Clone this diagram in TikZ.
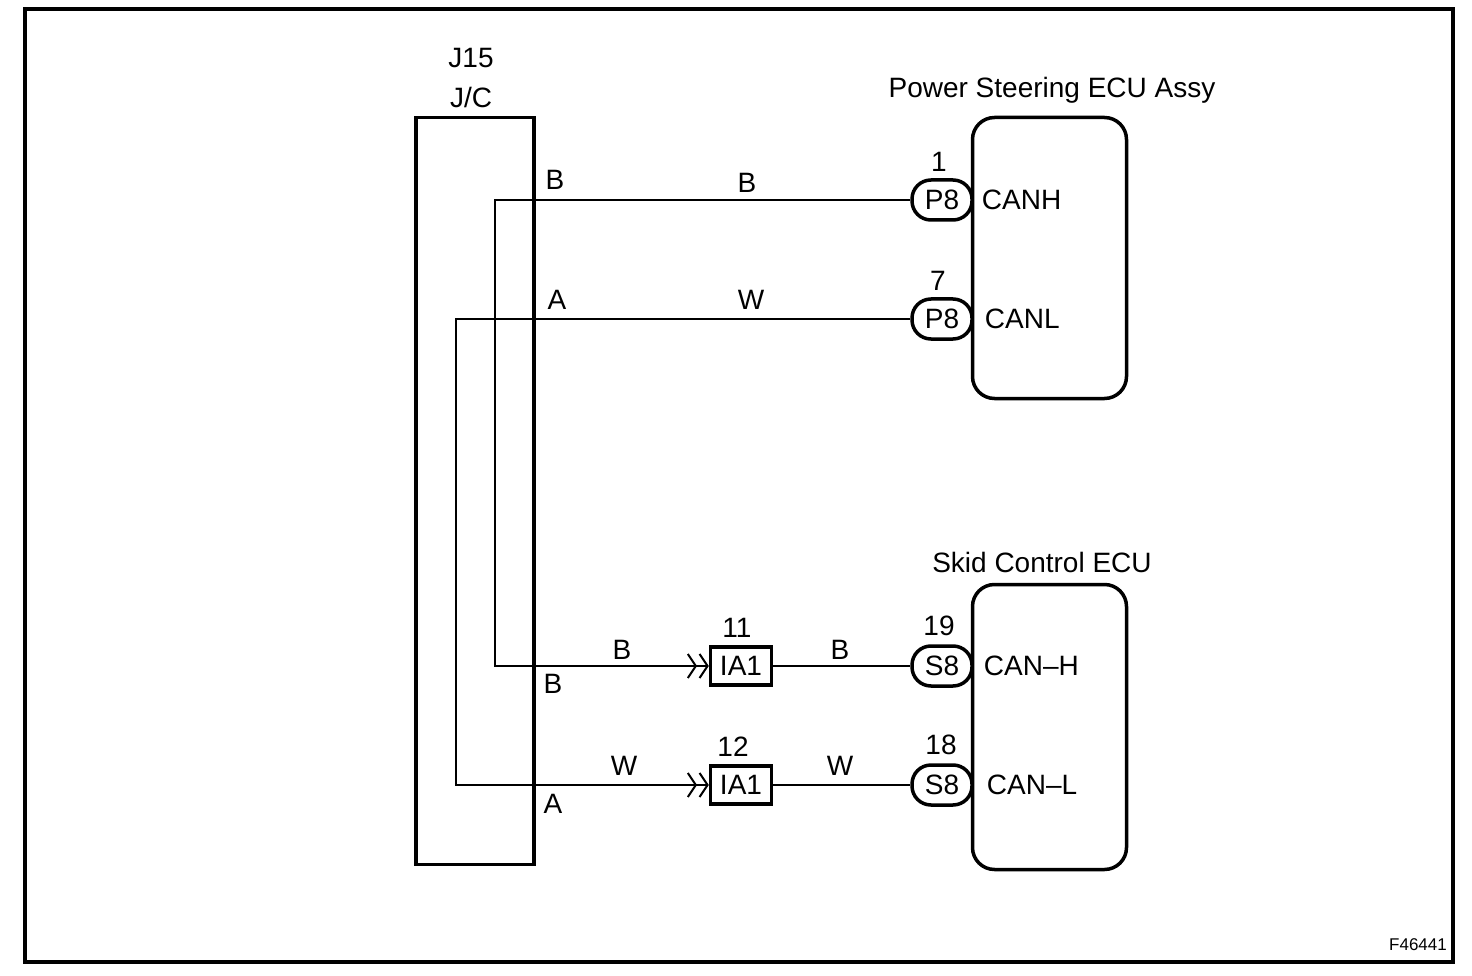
\documentclass[tikz,border=0pt]{standalone}
\usepackage{fontspec}
\setmainfont{Liberation Sans}
\usepackage{tikz}
\usetikzlibrary{arrows.meta, positioning}
\tikzset{
	font = \fontsize{28}{32}\selectfont,
	frame/.style={
		draw,
		line width=4.5pt
	},
	box/.style={
		draw,
		line width=3.5pt,
		inner sep=0pt
	},
	ecu/.style={
		box,
		rounded corners=22pt,
		minimum width=154pt
	},
	pin/.style={
		box,
		rounded corners=19pt,
		minimum width=60pt,
		minimum height=40pt
	},
	conn/.style={
		box,
		minimum width=61pt,
		minimum height=38pt
	},
	lbl/.style={
		inner sep=0pt
	},
	wire/.style={
		line width=1.5pt
	},
	jarrow/.style={
		-{Straight Barb[length=8pt,width=24pt,line width=2pt,sep=1.5pt]Straight Barb[length=8pt,width=24pt,line width=2pt]}
	}
}

\begin{document}
\begin{tikzpicture}[x=1pt, y=-1pt]
		\useasboundingbox (0,0) rectangle (1472,976);
		\draw[frame] (25,9) rectangle (1453,962);

		% junction connector
		\node[box, minimum width=118pt, minimum height=747pt] (jc) at (475,491) {};
		\node[lbl] at (471,58) {J15};
		\node[lbl] at (471,97) {J/C};

		% ECUs
		\node[ecu, minimum height=281pt] (ps) at (1049.5,258) {};
		\node[ecu, minimum height=285pt] (sk) at (1049.5,727) {};
		\node[lbl] at (1052,90) {Power Steering ECU Assy};
		\node[lbl] at (1042,562) {Skid Control ECU};

		% pins
		\node[pin] at (942,200) (p8a) {P8};
		\node[pin] at (942,319) (p8b) {P8};
		\node[pin] at (942,666) (s8a) {S8};
		\node[pin] at (942,785) (s8b) {S8};
		\node[lbl, above=7pt of p8a, xshift=-3pt] {1};
		\node[lbl, above=7pt of p8b, xshift=-4pt] {7};
		\node[lbl, above=8pt of s8a, xshift=-3pt] {19};
		\node[lbl, above=8pt of s8b, xshift=-1pt] {18};
		\node[lbl, right=8pt of p8a] {CANH};
		\node[lbl, right=11pt of p8b] {CANL};
		\node[lbl, right=10pt of s8a] {CAN--H};
		\node[lbl, right=13pt of s8b] {CAN--L};

		% intermediate connectors
		\node[conn] at (741,666) (ia1a) {IA1};
		\node[conn] at (741,785) (ia1b) {IA1};
		\node[lbl, above=8pt of ia1a, xshift=-4pt] {11};
		\node[lbl, above=8pt of ia1b, xshift=-8pt] {12};

		% wires
		\coordinate (jb) at (495,200);
		\coordinate (ja) at (456,319);
		\draw[wire, jarrow] (p8a) -- (jb) |- (ia1a);
		\draw[wire, jarrow] (p8b) -- (ja) |- (ia1b);
		\draw[wire] (ia1a) -- (s8a);
		\draw[wire] (ia1b) -- (s8b);

		\node[lbl] at (555,180) {B};
		\node[lbl] at (557,300) {A};
		\node[lbl] at (553,684) {B};
		\node[lbl] at (553,804) {A};
		\node[lbl] at (747,183) {B};
		\node[lbl] at (751,300) {W};
		\node[lbl] at (622,650) {B};
		\node[lbl] at (624,766) {W};
		\node[lbl] at (840,650) {B};
		\node[lbl] at (840,766) {W};

		\node[lbl, font=\fontsize{17}{20}\selectfont] at (1418,945) {F46441};
	\end{tikzpicture}
\end{document}
